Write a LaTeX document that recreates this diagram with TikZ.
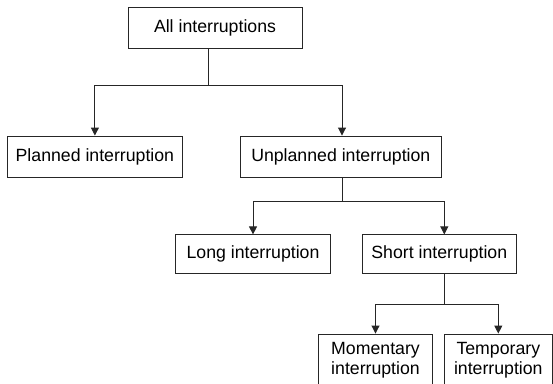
\documentclass[tikz,border=0pt]{standalone}
\usepackage{fontspec}
\setmainfont{Liberation Sans}
\usetikzlibrary{arrows.meta}

\begin{document}
\begin{tikzpicture}[x=1pt,y=-1pt]
\tikzstyle{box}=[draw=black!85, line width=0.9pt, inner sep=0pt, align=center, font=\fontsize{17.7}{20}\selectfont]
\tikzstyle{wire}=[draw=black!85, line width=0.9pt]
\tikzstyle{link}=[wire, -{Triangle[width=8pt,length=8pt]}]
\useasboundingbox (0,0) rectangle (553,383);
\clip (0,0) rectangle (553,383);
% boxes
\node [box, minimum width=174pt, minimum height=40.6pt] (all) at (215,28) {All interruptions};
\node [box, minimum width=174.2pt, minimum height=41pt] (planned) at (94.9,156.5) {Planned interruption};
\node [box, minimum width=200.4pt, minimum height=41pt] (unplanned) at (340.8,156.5) {Unplanned interruption};
\node [box, minimum width=155.4pt, minimum height=38.3pt] (long) at (253,254) {Long interruption};
\node [box, minimum width=154.7pt, minimum height=38.3pt] (short) at (439.3,254) {Short interruption};
\node [box, minimum width=114.4pt, minimum height=52pt] (momentary) at (375.5,360) {Momentary\\interruption};
\node [box, minimum width=107.3pt, minimum height=52pt] (temporary) at (498.3,360) {Temporary\\interruption};
% junctions
\coordinate (allsplit) at (208.5,85);
\coordinate (unplannedsplit) at (342,201);
\coordinate (shortsplit) at (444.3,304);
% connectors
\draw [wire] (all.south -| allsplit) -- (allsplit);
\draw [link] (allsplit) -| (planned);
\draw [link] (allsplit) -| (unplannedsplit |- unplanned.north);
\draw [wire] (unplanned.south -| unplannedsplit) -- (unplannedsplit);
\draw [link] (unplannedsplit) -| (long);
\draw [link] (unplannedsplit) -| (shortsplit |- short.north);
\draw [wire] (short.south -| shortsplit) -- (shortsplit);
\draw [link] (shortsplit) -| (momentary);
\draw [link] (shortsplit) -| (temporary);
\end{tikzpicture}
\end{document}
